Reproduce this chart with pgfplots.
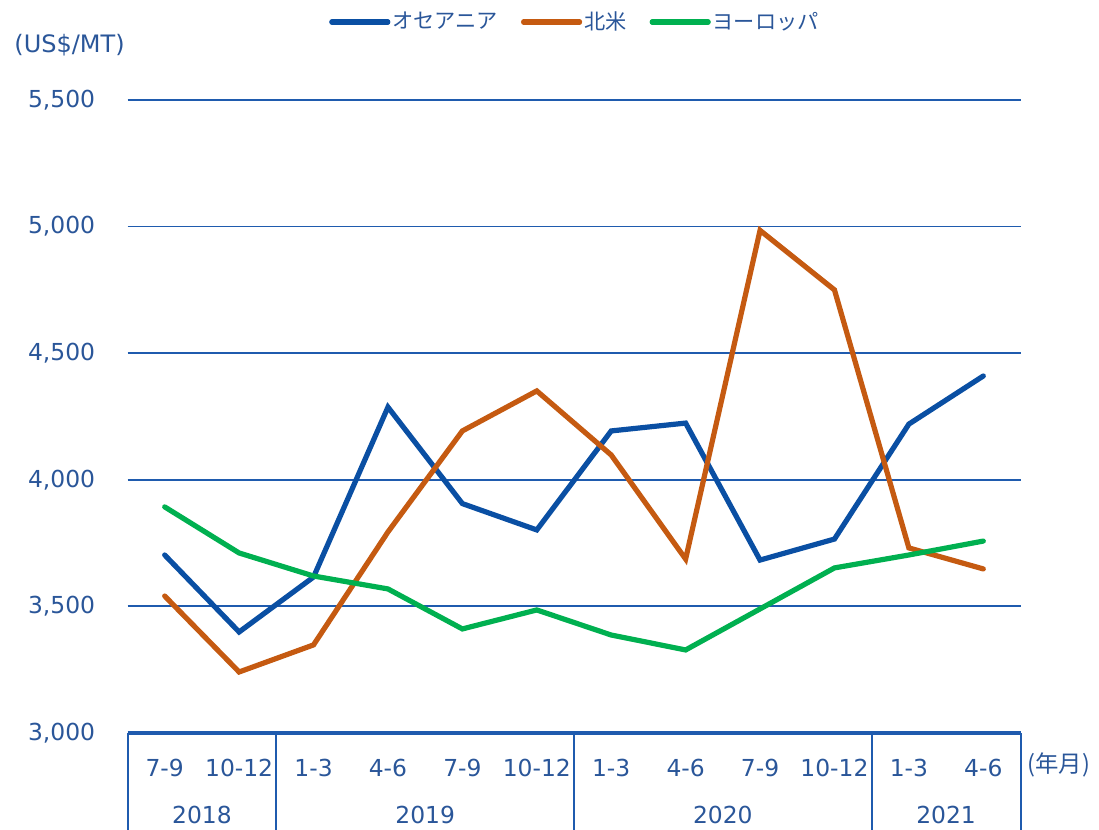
\documentclass[border=0pt]{standalone}
\usepackage{fontspec}
\setmainfont{DejaVu Sans}
\newfontfamily\cjk{Noto Sans CJK JP}
\usepackage{pgfplots}
\pgfplotsset{compat=1.18}
\definecolor{txt}{HTML}{2A5699}
\definecolor{grd}{HTML}{1F5BAE}
\definecolor{oce}{HTML}{0A4FA3}
\definecolor{nam}{HTML}{C55A11}
\definecolor{eur}{HTML}{00B050}
\begin{document}
\begin{tikzpicture}
\path[use as bounding box] (0,0) rectangle (549.5bp,415bp);
\begin{axis}[
  at={(63.75bp,48.5bp)}, anchor=south west,
  scale only axis, width=446.5bp, height=316.5bp,
  xmin=-0.5, xmax=11.5, ymin=3000, ymax=5500,
  clip=false,
  xtick={0,...,11},
  xticklabels={7-9,10-12,1-3,4-6,7-9,10-12,1-3,4-6,7-9,10-12,1-3,4-6},
  ytick={3000,3500,4000,4500,5000,5500},
  scaled y ticks=false,
  /pgf/number format/1000 sep={,},
  /pgf/number format/assume math mode=true,
  tick label style={font=\fontsize{11.7bp}{13bp}\selectfont, text=txt},
  xticklabel style={anchor=center, yshift=-17.5bp},
  yticklabel style={anchor=east, inner sep=0pt, xshift=-16bp},
  axis x line*=bottom, axis y line*=left,
  x axis line style={line width=2.3bp, color=grd},
  y axis line style={draw=none},
  major tick length=0pt, tick style={draw=none},
  ymajorgrids, major grid style={line width=0.9bp, grd},
  legend style={at={(0.5,1)}, anchor=center, yshift=39bp, xshift=0.5bp, draw=none, fill=none,
    font=\cjk\fontsize{10.6bp}{12bp}\selectfont, text=txt,
    /tikz/every even column/.append style={column sep=10.5bp},
    inner sep=0pt, nodes={inner sep=1bp}},
  legend columns=3,
  legend image code/.code={\draw[#1, line cap=round] (0bp,0bp) -- (28bp,0bp);},
]
\addplot[oce, line width=2.6bp, line cap=round] coordinates {
(0,3703) (1,3399) (2,3616) (3,4287) (4,3906) (5,3802) (6,4193) (7,4224) (8,3683) (9,3766) (10,4220) (11,4410)};
\addlegendentry{オセアニア}
\addplot[nam, line width=2.6bp, line cap=round] coordinates {
(0,3541) (1,3241) (2,3348) (3,3794) (4,4193) (5,4351) (6,4098) (7,3687) (8,4985) (9,4750) (10,3731) (11,3648)};
\addlegendentry{北米}
\addplot[eur, line width=2.6bp, line cap=round] coordinates {
(0,3893) (1,3711) (2,3620) (3,3569) (4,3411) (5,3486) (6,3387) (7,3328) (8,3490) (9,3652) (10,3703) (11,3758)};
\addlegendentry{ヨーロッパ}
\draw[grd, line width=1bp] (axis cs:-0.5,3000) -- ([yshift=-48.5bp]axis cs:-0.5,3000);
\draw[grd, line width=1bp] (axis cs:1.5,3000) -- ([yshift=-48.5bp]axis cs:1.5,3000);
\draw[grd, line width=1bp] (axis cs:5.5,3000) -- ([yshift=-48.5bp]axis cs:5.5,3000);
\draw[grd, line width=1bp] (axis cs:9.5,3000) -- ([yshift=-48.5bp]axis cs:9.5,3000);
\draw[grd, line width=1bp] (axis cs:11.5,3000) -- ([yshift=-48.5bp]axis cs:11.5,3000);
\node[text=txt, font=\fontsize{11.7bp}{13bp}\selectfont] at ([yshift=-41bp]axis cs:0.5,3000) {2018};
\node[text=txt, font=\fontsize{11.7bp}{13bp}\selectfont] at ([yshift=-41bp]axis cs:3.5,3000) {2019};
\node[text=txt, font=\fontsize{11.7bp}{13bp}\selectfont] at ([yshift=-41bp]axis cs:7.5,3000) {2020};
\node[text=txt, font=\fontsize{11.7bp}{13bp}\selectfont] at ([yshift=-41bp]axis cs:10.5,3000) {2021};
\end{axis}
\node[anchor=west, inner sep=0pt, text=txt, font=\fontsize{12bp}{13bp}\selectfont] at (7bp,392.5bp) {(US\$/MT)};
\node[anchor=west, inner sep=0pt, text=txt, font=\cjk\fontsize{11.7bp}{13bp}\selectfont] at (513.5bp,32.5bp) {(年月)};
\end{tikzpicture}
\end{document}
